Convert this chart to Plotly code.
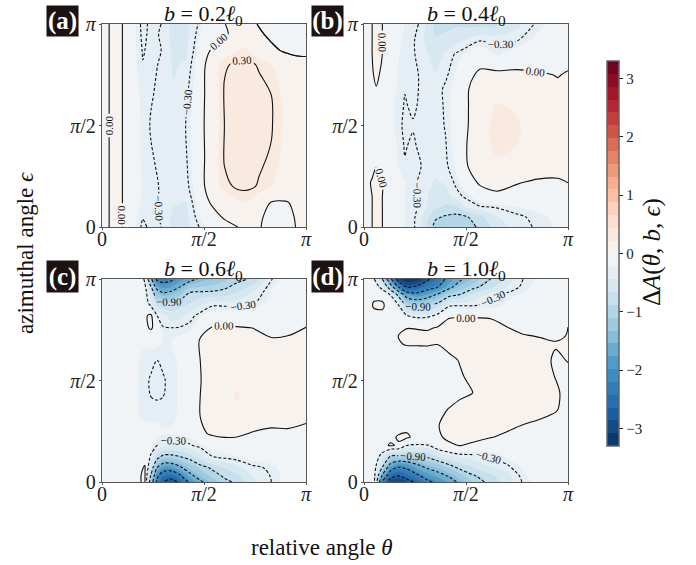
import plotly.graph_objects as go

W, H = 696, 565

theta_a = [0,.035,.07,.10,.16,.20,.24,.29,.35,.41,.50,.60,.70,.77,.83,.90,.95,1]
eps_a = [0,.05,.12,.2,.35,.5,.65,.8,.87,.95,1]
dA_a = [
 [-.04,0,.05,0,-.2,-.33,-.27,-.3,-.5,-.52,-.22,-.06,.03,.01,-.05,-.08,.002,.03],
 [-.04,0,.05,0,-.19,-.29,-.26,-.31,-.48,-.5,-.12,.02,.04,.01,-.02,-.05,.01,.03],
 [-.04,0,.05,0,-.17,-.24,-.27,-.31,-.42,-.45,-.04,.1,.21,.1,-.01,-.01,.02,.03],
 [-.04,0,.05,0,-.16,-.23,-.27,-.31,-.38,-.36,-.01,.28,.33,.29,.22,.1,.06,.03],
 [-.04,0,.05,0,-.17,-.24,-.29,-.33,-.4,-.32,-.01,.31,.34,.32,.29,.17,.12,.08],
 [-.04,0,.05,0,-.17,-.24,-.31,-.36,-.42,-.3,-.002,.3,.35,.34,.31,.19,.13,.1],
 [-.04,0,.05,0,-.17,-.25,-.29,-.33,-.42,-.34,-.01,.31,.34,.33,.3,.18,.13,.09],
 [-.04,0,.05,0,-.19,-.295,-.28,-.31,-.46,-.42,-.02,.29,.33,.29,.22,.1,.05,.04],
 [-.04,0,.05,0,-.2,-.31,-.27,-.3,-.48,-.48,-.06,.14,.25,.12,.03,-.02,-.03,-.03],
 [-.04,0,.05,0,-.2,-.33,-.27,-.31,-.5,-.5,-.14,-.02,.09,.02,-.03,-.06,-.07,-.07],
 [-.04,0,.05,0,-.2,-.34,-.27,-.3,-.5,-.5,-.2,-.003,.06,-.01,-.05,-.08,-.1,-.1],
]

theta_b = [0,.04,.06,.09,.15,.20,.24,.28,.35,.40,.45,.50,.57,.65,.75,.85,.95,1]
eps_b = [0,.05,.1,.15,.22,.3,.4,.5,.6,.68,.75,.85,.92,1]
dA_b = [
 [-.04,0,.04,0,-.15,-.22,-.26,-.45,-1.0,-1.05,-1.08,-1.02,-.85,-.55,-.36,-.28,-.2,-.17],
 [-.04,0,.04,0,-.15,-.22,-.26,-.42,-.85,-.93,-.98,-.93,-.72,-.45,-.33,-.26,-.18,-.15],
 [-.04,0,.04,0,-.15,-.22,-.26,-.33,-.6,-.7,-.68,-.42,-.31,-.28,-.22,-.16,-.12,-.1],
 [-.04,0,.04,0,-.15,-.22,-.26,-.33,-.55,-.52,-.36,-.27,-.1,-.03,-.06,-.09,-.07,-.06],
 [-.04,.01,.05,.01,-.14,-.22,-.26,-.34,-.46,-.42,-.27,-.1,.03,.05,.01,-.02,-.02,.002],
 [-.04,-.03,-.005,-.03,-.18,-.29,-.27,-.3,-.38,-.33,-.2,-.02,.13,.19,.14,.08,.06,.05],
 [-.05,-.04,-.03,-.04,-.2,-.31,-.28,-.33,-.37,-.31,-.15,-.01,.16,.25,.22,.12,.08,.06],
 [-.05,-.04,-.04,-.05,-.22,-.33,-.31,-.34,-.36,-.29,-.15,-.03,.16,.26,.24,.13,.09,.08],
 [-.05,-.04,-.04,-.05,-.22,-.31,-.28,-.32,-.36,-.28,-.15,-.03,.14,.23,.2,.12,.09,.07],
 [-.06,-.03,-.005,-.03,-.2,-.295,-.28,-.31,-.37,-.27,-.17,-.02,.08,.1,.1,.05,.02,.04],
 [-.06,-.01,.02,-.02,-.2,-.27,-.28,-.31,-.43,-.33,-.2,-.06,.04,.06,.04,.015,-.005,.01],
 [-.06,0,.04,0,-.18,-.27,-.29,-.33,-.55,-.4,-.28,-.19,-.1,-.24,-.12,-.09,-.05,-.04],
 [-.06,0,.05,0,-.16,-.24,-.28,-.38,-.64,-.6,-.5,-.42,-.31,-.33,-.31,-.18,-.12,-.1],
 [-.06,0,.05,0,-.14,-.22,-.26,-.32,-.72,-.72,-.7,-.72,-.72,-.72,-.5,-.26,-.15,-.12],
]

theta_c = [0,.12,.19,.21,.24,.27,.3,.34,.38,.43,.48,.54,.6,.66,.74,.83,.91,1]
eps_c = [0,.03,.07,.12,.18,.24,.32,.42,.5,.6,.7,.76,.82,.88,.94,1]
dA_c = [
 [-.08,-.07,-.002,.02,-1.2,-2.2,-2.7,-2.9,-2.6,-2.0,-1.6,-1.25,-.98,-.85,-.5,-.3,-.17,-.14],
 [-.08,-.07,-.002,.03,-.95,-2,-2.4,-2.5,-2.2,-1.65,-1.3,-1.05,-.85,-.72,-.42,-.29,-.16,-.13],
 [-.08,-.07,-.03,.02,-.6,-1.5,-1.85,-1.85,-1.6,-1.25,-1.05,-.85,-.65,-.5,-.34,-.27,-.13,-.11],
 [-.08,-.07,-.06,-.06,-.35,-.8,-1.05,-1.05,-.95,-.82,-.55,-.32,-.28,-.24,-.17,-.12,-.09,-.08],
 [-.08,-.07,-.08,-.1,-.18,-.3,-.36,-.4,-.38,-.32,-.25,-.14,-.1,-.07,-.07,-.06,-.05,-.05],
 [-.08,-.08,-.09,-.1,-.13,-.15,-.2,-.2,-.19,-.16,-.04,.03,.05,.03,-.01,-.03,-.02,-.03],
 [-.08,-.1,-.23,-.25,-.26,-.25,-.26,-.25,-.2,-.1,-.002,.07,.1,.14,.09,.06,.05,.02],
 [-.08,-.1,-.24,-.26,-.3,-.31,-.3,-.26,-.2,-.1,-.002,.09,.16,.24,.14,.09,.07,.06],
 [-.08,-.1,-.24,-.28,-.31,-.33,-.31,-.27,-.2,-.1,-.01,.09,.15,.19,.13,.09,.07,.06],
 [-.08,-.1,-.23,-.25,-.28,-.3,-.28,-.25,-.2,-.1,-.002,.08,.11,.1,.09,.07,.06,.05],
 [-.08,-.1,-.2,-.2,-.17,-.18,-.22,-.22,-.19,-.12,.01,.05,.06,.05,.04,.005,.01,.01],
 [-.08,-.08,-.08,-.05,.03,-.1,-.29,-.3,-.29,-.25,-.1,.01,.02,.01,-.002,-.02,-.02,.002],
 [-.08,-.08,-.08,-.03,.04,-.3,-.38,-.55,-.5,-.36,-.24,-.1,-.07,-.1,-.07,-.05,-.05,-.05],
 [-.08,-.08,-.1,-.15,-.4,-.75,-.85,-.85,-.78,-.66,-.5,-.36,-.37,-.37,-.32,-.17,-.08,-.07],
 [-.08,-.08,-.13,-.2,-.6,-1.4,-1.6,-1.5,-1.3,-.93,-.92,-.9,-.85,-.7,-.45,-.2,-.1,-.08],
 [-.08,-.08,-.15,-.35,-1.4,-2.2,-2.3,-2.2,-1.9,-1.65,-1.45,-1.3,-1.15,-1.0,-.85,-.31,-.15,-.1],
]

theta_d = [0,.05,.09,.13,.17,.21,.26,.31,.36,.42,.47,.53,.62,.7,.78,.87,.94,1]
eps_d = [0,.03,.08,.13,.18,.22,.28,.36,.44,.52,.6,.68,.72,.76,.81,.87,.92,.96,1]
dA_d = [
 [-.1,-.25,-2.2,-3.0,-3.1,-2.9,-2.6,-2.2,-2.0,-1.7,-1.4,-1.1,-.8,-.55,-.28,-.15,-.1,-.08],
 [-.1,-.2,-1.6,-2.5,-2.7,-2.5,-2.2,-1.9,-1.7,-1.45,-1.2,-.95,-.72,-.5,-.24,-.14,-.1,-.08],
 [-.1,-.15,-.8,-1.7,-2.0,-1.9,-1.6,-1.35,-1.2,-.95,-.75,-.6,-.42,-.32,-.18,-.12,-.09,-.08],
 [-.1,-.1,-.4,-.85,-.88,-.89,-.87,-.8,-.6,-.42,-.35,-.33,-.28,-.18,-.12,-.09,-.08,-.07],
 [-.1,-.08,-.05,.02,-.02,-.3,-.33,-.32,-.12,-.03,.005,-.03,-.08,-.08,-.08,-.07,-.07,-.06],
 [-.1,-.09,-.08,-.04,.02,.03,-.06,-.1,-.03,.04,.06,.05,.005,-.03,-.05,-.05,-.05,-.05],
 [-.1,-.1,-.09,-.08,-.07,-.05,-.03,-.05,-.01,.06,.08,.08,.06,.035,-.002,-.02,-.04,-.05],
 [-.1,-.1,-.1,-.1,-.09,-.08,-.07,-.06,-.03,.005,.04,.07,.09,.08,.05,.03,.01,-.04],
 [-.1,-.1,-.1,-.1,-.09,-.09,-.08,-.07,-.06,-.05,-.03,-.003,.05,.08,.08,.06,.02,-.04],
 [-.1,-.1,-.1,-.1,-.09,-.09,-.08,-.07,-.06,-.04,-.01,.02,.06,.08,.08,.05,-.005,-.03],
 [-.1,-.1,-.1,-.1,-.09,-.09,-.08,-.07,-.05,-.02,.005,.03,.05,.07,.07,.04,-.02,.005],
 [-.1,-.1,-.1,-.08,-.01,.01,.01,.01,.002,.03,.05,.06,.08,.07,.05,.03,.01,.01],
 [-.1,-.1,-.1,-.06,.005,.04,.04,.04,.03,.05,.07,.08,.08,.06,.01,-.01,-.02,.005],
 [-.1,-.1,-.09,-.08,-.05,-.005,-.01,-.02,.01,.04,.05,.05,.04,.005,-.04,-.06,-.05,.005],
 [-.1,-.06,-.06,-.1,-.12,-.15,-.3,-.28,-.12,-.003,-.002,-.002,-.005,-.05,-.09,-.08,-.08,-.07],
 [-.1,.02,.03,-.1,-.3,-.92,-1.0,-.95,-.75,-.32,-.31,-.31,-.27,-.2,-.14,-.1,-.09,-.08],
 [-.1,-.03,-.05,-.3,-1.0,-1.7,-1.9,-1.7,-1.4,-.97,-.87,-.6,-.33,-.25,-.2,-.13,-.1,-.09],
 [-.1,-.12,-.4,-1.2,-2.1,-2.7,-2.6,-2.3,-2.1,-1.6,-1.25,-1.0,-.72,-.42,-.26,-.15,-.11,-.09],
 [-.1,-.3,-.9,-2.0,-3.0,-3.3,-3.2,-2.8,-2.4,-1.9,-1.6,-1.3,-.9,-.6,-.3,-.17,-.12,-.1],
]

panel_letters = ["(a)", "(b)", "(c)", "(d)"]
panel_titles = ["0.2", "0.4", "0.6", "1.0"]
tick_vals = [0, 0.5, 1]
tick_text = ["0", "<i>π</i>/2", "<i>π</i>"]
cbar_ticks = [-3, -2, -1, 0, 1, 2, 3]
cbar_text = ["−3", "−2", "−1", "0", "1", "2", "3"]

SERIF = "Liberation Serif"
RDBU = ["#053061","#2166ac","#4393c3","#92c5de","#d1e5f0","#f7f7f7",
        "#fddbc7","#f4a582","#d6604d","#b2182b","#67001f"]
colorscale = [[i / 10, c] for i, c in enumerate(RDBU)]

boxes = [(102, 306, 24, 227), (364, 568, 24, 227), (102, 306, 279, 482), (364, 568, 279, 482)]
label_boxes = [(47, 78, 6, 36), (312, 343, 6, 36), (47, 78, 261, 292), (312, 343, 261, 292)]
panels = [(theta_a, eps_a, dA_a), (theta_b, eps_b, dA_b), (theta_c, eps_c, dA_c), (theta_d, eps_d, dA_d)]

fig = go.Figure()
LF = dict(family=SERIF, size=11, color="#111111")

for i, (t, e, z) in enumerate(panels):
    assert all(len(r) == len(t) for r in z) and len(z) == len(e), i
    xa, ya = ("x", "y") if i == 0 else (f"x{i+1}", f"y{i+1}")
    fill = dict(x=t, y=e, z=z, xaxis=xa, yaxis=ya, hoverinfo="skip")
    fig.add_trace(go.Contour(
        **fill, zmin=-3.3, zmax=3.3, colorscale=colorscale, autocontour=False,
        contours=dict(start=-3.3, end=3.3, size=0.22, coloring="fill", showlines=False),
        line=dict(width=0, smoothing=0.9), showscale=(i == 0),
        colorbar=dict(
            x=606.7 / W, xanchor="left", xpad=0, ypad=0, thickness=11.5, thicknessmode="pixels",
            y=1 - 61 / H, yanchor="top", len=(445.7 - 61) / H, lenmode="fraction",
            tickvals=cbar_ticks, ticktext=cbar_text, ticks="outside", ticklen=4, tickcolor="#222",
            tickfont=dict(family=SERIF, size=15, color="#222"),
            outlinecolor="#666", outlinewidth=1.5, borderwidth=0),
    ))
    for start, end, size, dash in [(-3.3, -0.2, 0.6, "3px,2px"), (0, 0.01, 1, "solid"), (0.3, 3.3, 0.6, "solid")]:
        fig.add_trace(go.Contour(
            **fill, showscale=False, autocontour=False,
            contours=dict(start=start, end=end, size=size, coloring="none",
                          showlabels=True, labelfont=LF, labelformat=".2f"),
            line=dict(color="#111111", width=1.1, dash=dash, smoothing=0.9),
        ))

# the top-right corner of panel (a), from the same values, so its zero line gets its own label
fig.add_trace(go.Contour(
    x=theta_a[12:], y=eps_a[7:], z=[row[12:] for row in dA_a[7:]], hoverinfo="skip",
    showscale=False, autocontour=False,
    contours=dict(start=0, end=0.01, size=1, coloring="none", showlabels=True, labelfont=LF, labelformat=".2f"),
    line=dict(color="#111111", width=1.1, smoothing=0.9),
))

layout = dict(
    width=W, height=H, autosize=False, margin=dict(l=0, r=0, t=0, b=0, pad=0, autoexpand=False),
    paper_bgcolor="white", plot_bgcolor="white", showlegend=False,
    font=dict(family=SERIF, color="#111111"), annotations=[],
)
for i, (l, r, t, b) in enumerate(boxes):
    s = "" if i == 0 else str(i + 1)
    common = dict(range=[0, 1], tickvals=tick_vals, ticktext=tick_text, ticks="outside",
                  ticklen=2, tickcolor="#555", showgrid=False, zeroline=False,
                  showline=True, mirror=True, linecolor="#555", linewidth=1.4,
                  tickfont=dict(family=SERIF, size=20, color="#222"))
    layout["xaxis" + s] = dict(common, domain=[l / W, r / W], anchor="y" + s, ticklabelstandoff=-8)
    layout["yaxis" + s] = dict(common, domain=[1 - b / H, 1 - t / H], anchor="x" + s, ticklabelstandoff=-1)
    layout["annotations"].append(dict(
        xref="paper", yref="paper", x=(l + r) / 2 / W, y=1 - (t - 9) / H, xanchor="center", yanchor="middle",
        showarrow=False, text=f"<i>b</i> = {panel_titles[i]}<i>ℓ</i><sub>0</sub>",
        font=dict(family=SERIF, size=22, color="#111")))
    ll, lr, lt, lb = label_boxes[i]
    layout["annotations"].append(dict(
        xref="paper", yref="paper", x=(ll + lr) / 2 / W, y=1 - (lt + lb) / 2 / H, xanchor="center", yanchor="middle",
        showarrow=False, text=f"<b>{panel_letters[i]}</b>", width=lr - ll, height=lb - lt, bgcolor="#1c1212",
        borderpad=0, font=dict(family=SERIF, size=25, color="white")))

layout["annotations"] += [
    dict(xref="paper", yref="paper", x=322 / W, y=1 - 547 / H, showarrow=False, xanchor="center", yanchor="middle",
         text="relative angle <i>θ</i>", font=dict(family=SERIF, size=23, color="#111")),
    dict(xref="paper", yref="paper", x=25 / W, y=1 - 253 / H, showarrow=False, textangle=-90, xanchor="center", yanchor="middle",
         text="azimuthal angle <i>ϵ</i>", font=dict(family=SERIF, size=23, color="#111")),
    dict(xref="paper", yref="paper", x=652 / W, y=1 - 252 / H, showarrow=False, textangle=-90, xanchor="center", yanchor="middle",
         text="Δ<i>A</i>(<i>θ</i>, <i>b</i>, <i>ϵ</i>)", font=dict(family=SERIF, size=25, color="#111")),
]
fig.update_layout(**layout)
fig.write_html("out.html", config=dict(displayModeBar=False), post_script="document.body.style.margin='0';")
